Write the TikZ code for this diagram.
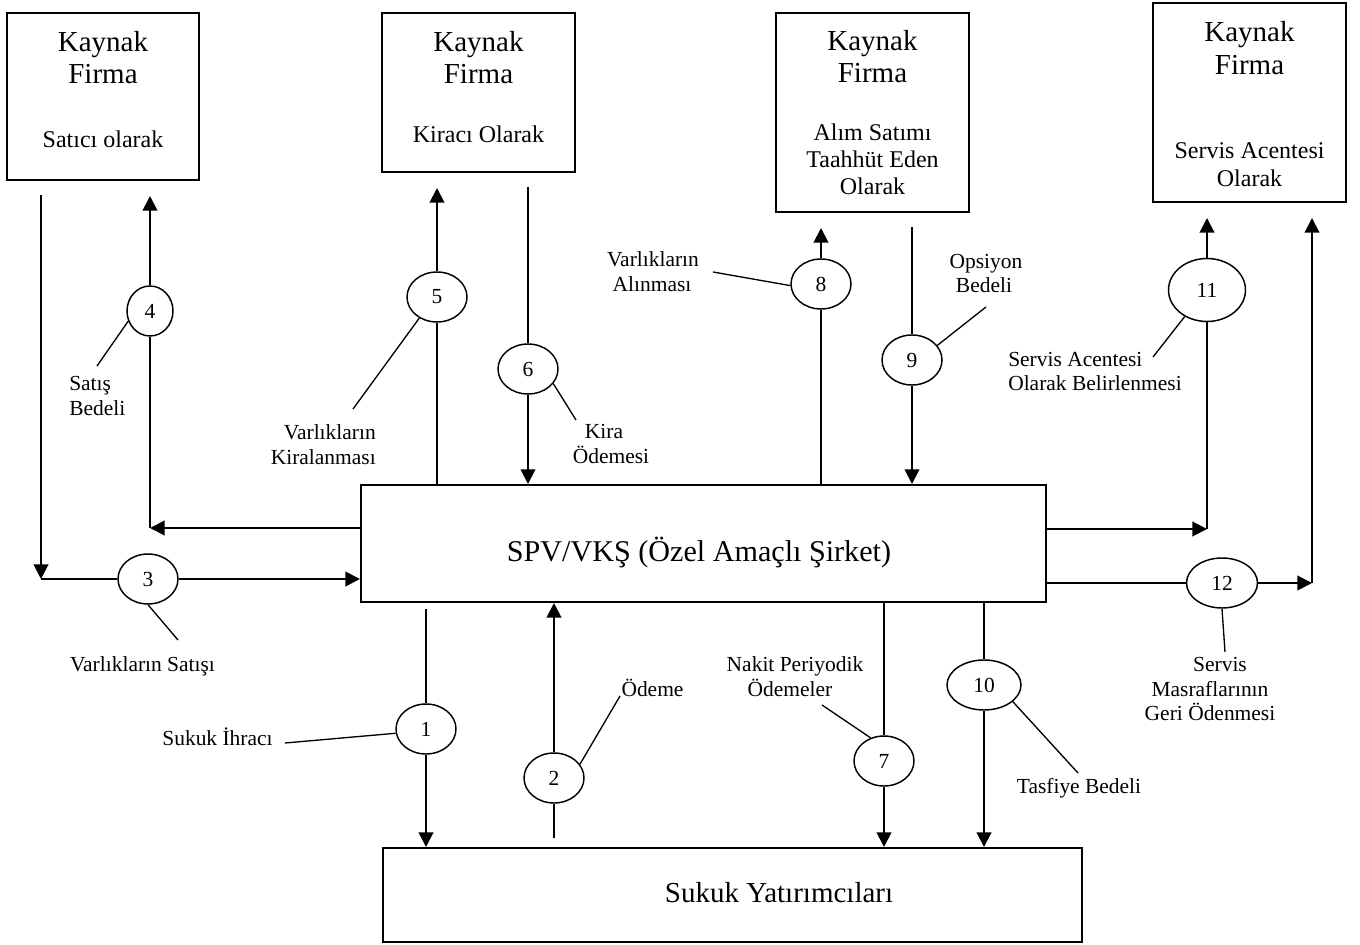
\documentclass[tikz,border=0pt]{standalone}
\usepackage{fontspec}
\setmainfont{Liberation Serif}
\usetikzlibrary{arrows.meta,shapes.geometric}
\newcommand\bigtext{\fontsize{21.75}{24.5}\selectfont}
\newcommand\spvtext{\fontsize{22.6}{25}\selectfont}
\newcommand\boxtext{\fontsize{18}{20}\selectfont}
\newcommand\smalltext{\fontsize{16.1}{18.5}\selectfont}
\begin{document}
\begin{tikzpicture}[x=0.75pt,y=-0.75pt,
  box/.style={draw,rectangle,line width=1.5pt,inner sep=0pt},
  num/.style={draw,ellipse,line width=1.1pt,inner sep=0pt,
    minimum width=45pt,minimum height=37.5pt,font=\smalltext},
  flow/.style={line width=1.5pt},
  arr/.style={flow,-{Triangle[length=11pt,width=11pt]}},
  lead/.style={line width=1pt},
  big/.style={font=\bigtext,inner sep=0pt,anchor=base},
  inbox/.style={font=\boxtext,inner sep=0pt,anchor=base},
  lab/.style={font=\smalltext,inner sep=0pt,anchor=base},
  labl/.style={lab,anchor=base west},
  labr/.style={lab,anchor=base east},
]
\useasboundingbox (0,0) rectangle (1360,945);

% ---- boxes ----
\node[box,minimum width=144pt,minimum height=125.25pt] (kfA) at (103,96.5) {};
\node[box,minimum width=144.75pt,minimum height=119.25pt] (kfB) at (478.5,92.5) {};
\node[box,minimum width=144.75pt,minimum height=149.25pt] (kfC) at (872.5,112.5) {};
\node[box,minimum width=144.75pt,minimum height=149.25pt] (kfD) at (1249.5,102.5) {};
\node[box,minimum width=513.75pt,minimum height=87.75pt] (spv) at (703.5,543.5) {};
\node[box,minimum width=524.25pt,minimum height=70.5pt] (inv) at (732.5,895) {};

% ---- box texts ----
\node[big] (tA1) at (103,52) {Kaynak};
\node[big] (tA2) at (103,84) {Firma};
\node[inbox] (tA3) at (103,148) {Satıcı olarak};

\node[big] (tB1) at (478.5,52) {Kaynak};
\node[big] (tB2) at (478.5,84) {Firma};
\node[inbox] (tB3) at (478.5,143) {Kiracı Olarak};

\node[big] (tC1) at (872.5,51) {Kaynak};
\node[big] (tC2) at (872.5,83) {Firma};
\node[inbox] (tC3) at (872.5,141) {Alım Satımı};
\node[inbox] (tC4) at (872.5,168) {Taahhüt Eden};
\node[inbox] (tC5) at (872.5,195) {Olarak};

\node[big] (tD1) at (1249.5,42) {Kaynak};
\node[big] (tD2) at (1249.5,75) {Firma};
\node[inbox] (tD3) at (1249.5,159) {Servis Acentesi};
\node[inbox] (tD4) at (1249.5,186) {Olarak};

\node[big,font=\spvtext] (tS) at (699,561) {SPV/VKŞ (Özel Amaçlı Şirket)};
\node[big] (tI) at (779,902) {Sukuk Yatırımcıları};

% ---- numbered steps ----
\node[num] (n1) at (426,729) {1};
\node[num] (n2) at (554,778) {2};
\node[num] (n3) at (148,579) {3};
\node[num,minimum width=34.5pt] (n4) at (150,311) {4};
\node[num] (n5) at (437,297) {5};
\node[num] (n6) at (528,369) {6};
\node[num] (n7) at (884,761) {7};
\node[num] (n8) at (821,284) {8};
\node[num] (n9) at (912,360) {9};
\node[num,minimum width=55.5pt] (n10) at (984,685) {10};
\node[num,minimum width=57.75pt,minimum height=47.25pt] (n11) at (1207,290) {11};
\node[num,minimum width=53.25pt] (n12) at (1222,583) {12};

% ---- flows ----
% 1
\coordinate (s1) at (426,609);
\draw[flow] (s1) -- (n1.north);
\draw[arr] (n1.south) -- (n1.south |- inv.north);
% 2
\coordinate (s2) at (554,838);
\draw[flow] (s2) -- (n2.south);
\draw[arr] (n2.north) -- (n2.north |- spv.south);
% 3
\coordinate (s3) at (41,195);
\coordinate (c3) at (41,579);
\draw[arr] (s3) -- (c3);
\draw[flow] (c3) -- (n3.west);
\draw[arr] (n3.east) -- (n3.east -| spv.west);
% 4
\coordinate (c4) at (150,528);
\coordinate (t4) at (150,196);
\draw[arr] (c4 -| spv.west) -- (c4);
\draw[flow] (c4) -- (n4.south);
\draw[arr] (n4.north) -- (t4);
% 5
\coordinate (t5) at (437,188);
\draw[flow] (n5.south |- spv.north) -- (n5.south);
\draw[arr] (n5.north) -- (t5);
% 6
\coordinate (s6) at (528,187);
\draw[flow] (s6) -- (n6.north);
\draw[arr] (n6.south) -- (n6.south |- spv.north);
% 7
\draw[flow] (n7.north |- spv.south) -- (n7.north);
\draw[arr] (n7.south) -- (n7.south |- inv.north);
% 8
\coordinate (t8) at (821,228);
\draw[flow] (n8.south |- spv.north) -- (n8.south);
\draw[arr] (n8.north) -- (t8);
% 9
\coordinate (s9) at (912,227);
\draw[flow] (s9) -- (n9.north);
\draw[arr] (n9.south) -- (n9.south |- spv.north);
% 10
\draw[flow] (n10.north |- spv.south) -- (n10.north);
\draw[arr] (n10.south) -- (n10.south |- inv.north);
% 11
\coordinate (c11) at (1207,529);
\coordinate (t11) at (1207,218);
\draw[arr] (c11 -| spv.east) -- (c11);
\draw[flow] (c11) -- (n11.south);
\draw[arr] (n11.north) -- (t11);
% 12
\coordinate (c12) at (1312,583);
\coordinate (t12) at (1312,218);
\draw[flow] (n12.west -| spv.east) -- (n12.west);
\draw[arr] (n12.east) -- (c12);
\draw[arr] (c12) -- (t12);

% ---- labels and leader lines ----
\node[labl] (l4a) at (69,390) {Satış};
\node[labl] (l4b) at (69,415) {Bedeli};
\coordinate (e4) at (97,366);
\draw[lead] (n4.205) -- (e4);

\node[labr] (l5a) at (376,439) {Varlıkların};
\node[labr] (l5b) at (376,464) {Kiralanması};
\coordinate (e5) at (353,409);
\draw[lead] (n5.230) -- (e5);

\node[lab] (l6a) at (604,438) {Kira};
\node[lab] (l6b) at (611,463) {Ödemesi};
\coordinate (e6) at (576,420);
\draw[lead] (n6.330) -- (e6);

\node[lab] (l8a) at (653,267) {Varlıkların};
\node[lab] (l8b) at (652,291) {Alınması};
\coordinate (e8) at (713,272);
\draw[lead] (n8.183) -- (e8);

\node[lab] (l9a) at (986,268) {Opsiyon};
\node[lab] (l9b) at (984,292) {Bedeli};
\coordinate (e9) at (986,307);
\draw[lead] (n9.30) -- (e9);

\node[labl] (l11a) at (1008,366) {Servis Acentesi};
\node[labl] (l11b) at (1008,390) {Olarak Belirlenmesi};
\coordinate (e11) at (1153,357);
\draw[lead] (n11.230) -- (e11);

\node[lab] (l3) at (142.5,671) {Varlıkların Satışı};
\coordinate (e3) at (178,640);
\draw[lead] (n3.south) -- (e3);

\node[lab] (l1) at (217.5,745) {Sukuk İhracı};
\coordinate (e1) at (285,743);
\draw[lead] (n1.188) -- (e1);

\node[lab] (l2) at (652.5,696) {Ödeme};
\coordinate (e2) at (620,696);
\draw[lead] (n2.28) -- (e2);

\node[lab] (l7a) at (795,671) {Nakit Periyodik};
\node[lab] (l7b) at (790,696) {Ödemeler};
\coordinate (e7) at (822,705);
\draw[lead] (n7.120) -- (e7);

\node[lab] (l10) at (1079,793) {Tasfiye Bedeli};
\coordinate (e10) at (1078,773);
\draw[lead] (n10.330) -- (e10);

\node[lab] (l12a) at (1220,671) {Servis};
\node[lab] (l12b) at (1210,696) {Masraflarının};
\node[lab] (l12c) at (1210,720) {Geri Ödenmesi};
\coordinate (e12) at (1225,652);
\draw[lead] (n12.south) -- (e12);
\end{tikzpicture}
\end{document}
